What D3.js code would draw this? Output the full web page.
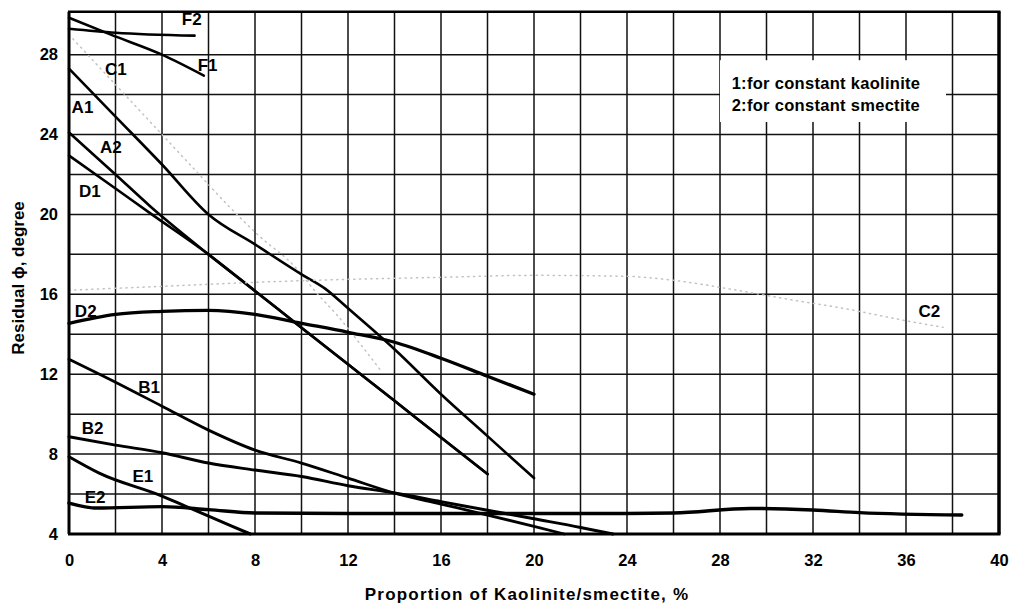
<!DOCTYPE html>
<html>
<head>
<meta charset="utf-8">
<script src="https://cdn.jsdelivr.net/npm/d3@7"></script>
<style>
  body { margin: 0; background: #fff; }
  svg text { font-family: "Liberation Sans", Arial, Helvetica, sans-serif; font-weight: bold; fill: #000; }
</style>
</head>
<body>
<svg id="chart" width="1013" height="609"></svg>
<script>
// Axis ticks
const xTickValues = [0, 4, 8, 12, 16, 20, 24, 28, 32, 36, 40];
const yTickValues = [4, 8, 12, 16, 20, 24, 28];

// Residual friction angle (degree) vs proportion of kaolinite/smectite (%)
const curveF2 = [[0, 29.3], [2, 29.1], [5.4, 28.95]];
const curveF1 = [[0, 29.85], [1.8, 29.0], [4, 28.0], [5.8, 26.95]];
const curveC1 = [[0, 29.0], [2, 26.5], [4, 24.0], [5.6, 22.0], [6.8, 20.5], [8.2, 18.9], [9.7, 17.4], [10.7, 16.0], [11.5, 15.0], [12.4, 13.7], [13.4, 12.2]];
const curveA1 = [[0, 27.3], [2, 24.9], [4, 22.5], [6, 20.0], [8, 18.5], [10, 17.0], [11, 16.3], [12, 15.3], [14, 13.25], [16, 11.0], [18, 8.9], [20, 6.8]];
const curveA2 = [[0, 24.1], [2, 22.0], [3.5, 20.4], [6, 18.0], [8, 16.17], [10, 14.33], [12, 12.5], [14, 10.67], [16, 8.83], [18, 7.0]];
const curveD1 = [[0, 22.95], [2, 21.3], [3.5, 20.05], [6, 18.0], [8, 16.17], [10, 14.33], [12, 12.5], [14, 10.67], [16, 8.83], [18, 7.0]];
const curveD2 = [[0, 14.55], [2, 15.0], [4, 15.15], [6, 15.2], [8, 15.0], [10, 14.55], [12, 14.1], [14, 13.6], [16, 12.8], [18, 11.9], [20, 11.0]];
const curveC2 = [[0, 16.2], [4, 16.4], [8, 16.6], [12, 16.75], [16, 16.85], [20, 16.95], [24, 16.9], [26, 16.7], [29, 16.15], [31.2, 15.7], [33.3, 15.3], [35.9, 14.7], [37.6, 14.35]];
const curveB1 = [[0, 12.75], [2, 11.6], [4, 10.4], [6, 9.2], [8, 8.2], [10, 7.55], [12, 6.8], [14, 6.05], [16, 5.5], [18, 4.95], [20, 4.38], [21.3, 4.0]];
const curveB2 = [[0, 8.87], [2, 8.45], [4, 8.07], [6, 7.55], [8, 7.2], [10, 6.88], [12, 6.42], [14, 6.05], [16, 5.62], [18, 5.19], [20, 4.76], [22, 4.33], [23.4, 4.0]];
const curveE1 = [[0, 7.87], [1.3, 7.05], [4, 5.9], [5, 5.4], [7.8, 4.0]];
const curveE2 = [[0, 5.55], [1.2, 5.3], [4, 5.37], [6, 5.22], [8, 5.05], [12, 5.03], [16, 5.03], [20, 5.03], [24, 5.03], [26, 5.05], [29.3, 5.28], [32, 5.2], [34, 5.07], [38.4, 4.95]];

const legendLines = ["1:for constant kaolinite", "2:for constant smectite"];

const svg = d3.select("#chart");
const plot = { left: 69, right: 999, top: 11.7, bottom: 534 };

const x = d3.scaleLinear().domain([0, 40]).range([plot.left, plot.right]);
const y = d3.scaleLinear().domain([4, 30.15]).range([plot.bottom, plot.top]);

// Grid every 2 units
const gridX = d3.range(2, 40, 2);
const gridY = d3.range(6, 30, 2);
const grid = svg.append("g").attr("stroke", "#111").attr("stroke-width", 1.5);
grid.selectAll("line.gx").data(gridX).join("line").attr("class", "gx")
  .attr("x1", d => x(d)).attr("x2", d => x(d)).attr("y1", plot.top).attr("y2", plot.bottom);
grid.selectAll("line.gy").data(gridY).join("line").attr("class", "gy")
  .attr("x1", plot.left).attr("x2", plot.right).attr("y1", d => y(d)).attr("y2", d => y(d));

// Legend note sits on a white panel over the grid
const legendX = 28.5;
const legendY = [26.27, 25.2];
svg.append("rect")
  .attr("x", x(28.0)).attr("y", y(27.72))
  .attr("width", x(37.72) - x(28.0)).attr("height", y(24.63) - y(27.72))
  .attr("fill", "#fff");
svg.selectAll("text.legend").data(legendLines).join("text").attr("class", "legend")
  .attr("x", x(legendX)).attr("y", (d, i) => y(legendY[i]))
  .attr("font-size", 16.5).attr("letter-spacing", 0.3)
  .text(d => d);

// Curves
const line = d3.line().x(d => x(d[0])).y(d => y(d[1])).curve(d3.curveMonotoneX);
const series = [
  { name: "F2", data: curveF2, w: 2.6 },
  { name: "F1", data: curveF1, w: 2.6 },
  { name: "C1", data: curveC1, w: 1.5, faint: true },
  { name: "A1", data: curveA1, w: 2.6 },
  { name: "A2", data: curveA2, w: 2.6 },
  { name: "D1", data: curveD1, w: 2.6 },
  { name: "D2", data: curveD2, w: 3.3 },
  { name: "C2", data: curveC2, w: 1.5, faint: true },
  { name: "B1", data: curveB1, w: 2.8 },
  { name: "B2", data: curveB2, w: 3.0 },
  { name: "E1", data: curveE1, w: 3.0 },
  { name: "E2", data: curveE2, w: 3.4 }
];
svg.append("g").selectAll("path").data(series).join("path")
  .attr("d", d => line(d.data))
  .attr("fill", "none")
  .attr("stroke", d => d.faint ? "#c2c2c2" : "#000")
  .attr("stroke-width", d => d.w)
  .attr("stroke-dasharray", d => d.faint ? "1.2,4.5" : null)
  .attr("stroke-linecap", "round")
  .attr("stroke-linejoin", "round");

// Curve labels (data units, baseline)
const labelPos = {
  F2: [5.28, 29.5], F1: [5.96, 27.2], C1: [2.02, 26.98], A1: [0.58, 25.07],
  A2: [1.8, 23.06], D1: [0.9, 20.89], D2: [0.72, 14.88], C2: [37.0, 14.88],
  B1: [3.45, 11.05], B2: [1.02, 9.0], E1: [3.18, 6.62], E2: [1.12, 5.54]
};
svg.selectAll("text.clabel").data(series).join("text").attr("class", "clabel")
  .attr("x", d => x(labelPos[d.name][0])).attr("y", d => y(labelPos[d.name][1]))
  .attr("text-anchor", "middle").attr("font-size", 17)
  .text(d => d.name);

// Frame
const frame = svg.append("g").attr("stroke", "#000").attr("fill", "none");
frame.append("line").attr("x1", plot.left - 1).attr("x2", plot.right + 1.5).attr("y1", plot.top).attr("y2", plot.top).attr("stroke-width", 2.5);
frame.append("line").attr("x1", plot.left - 1).attr("x2", plot.right + 1.5).attr("y1", plot.bottom).attr("y2", plot.bottom).attr("stroke-width", 3);
frame.append("line").attr("x1", plot.left).attr("x2", plot.left).attr("y1", plot.top).attr("y2", plot.bottom).attr("stroke-width", 3);
frame.append("line").attr("x1", plot.right).attr("x2", plot.right).attr("y1", plot.top).attr("y2", plot.bottom).attr("stroke-width", 3.5);

// Axes (labels only; frame and grid drawn above)
const xAxis = svg.append("g").attr("transform", `translate(0,${plot.bottom})`)
  .call(d3.axisBottom(x).tickValues(xTickValues).tickSize(0).tickPadding(20).tickFormat(d3.format("d")));
const yAxis = svg.append("g").attr("transform", `translate(${plot.left},0)`)
  .call(d3.axisLeft(y).tickValues(yTickValues).tickSize(0).tickPadding(11).tickFormat(d3.format("d")));
[xAxis, yAxis].forEach(a => {
  a.select(".domain").remove();
  a.selectAll("text").attr("font-size", 16.5).attr("fill", "#000")
    .style("font-family", '"Liberation Sans", Arial, sans-serif').style("font-weight", "bold");
});

// Axis titles
svg.append("text")
  .attr("x", (plot.left + plot.right) / 2 - 7).attr("y", 600)
  .attr("text-anchor", "middle").attr("font-size", 17).attr("letter-spacing", 1.2)
  .text("Proportion of Kaolinite/smectite, %");
svg.append("text")
  .attr("transform", `translate(24,${y(16.82)}) rotate(-90)`)
  .attr("text-anchor", "middle").attr("font-size", 17)
  .text("Residual \u03D5, degree");
</script>
</body>
</html>
